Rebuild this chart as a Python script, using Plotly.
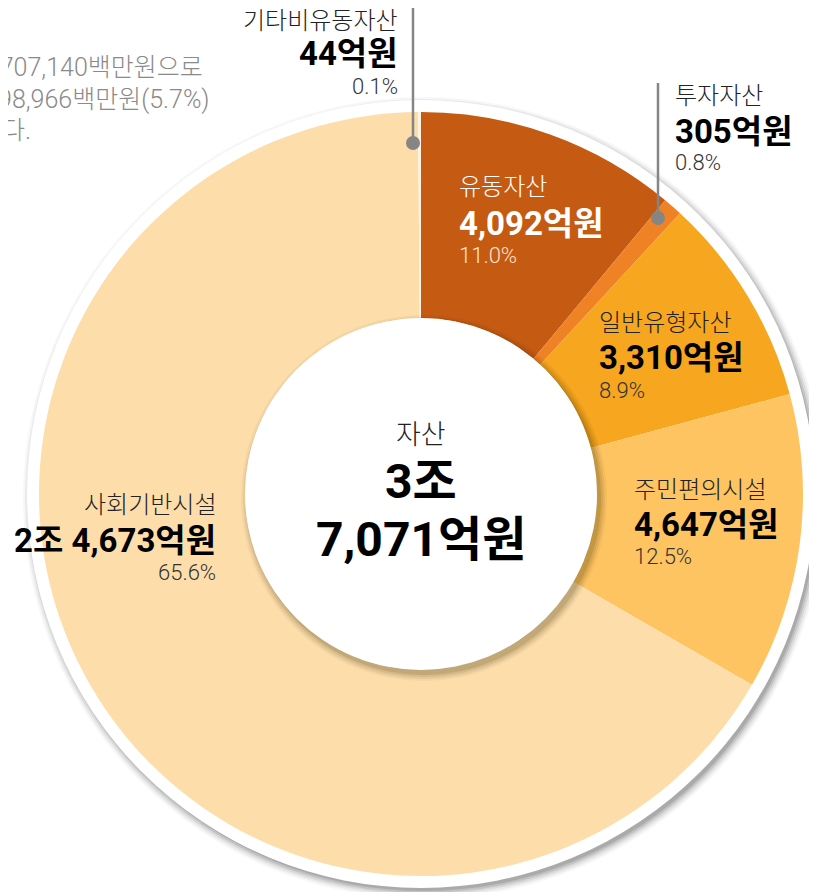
import plotly.graph_objects as go

# ---- data ----
names = ["유동자산", "투자자산", "일반유형자산", "주민편의시설", "사회기반시설", "기타비유동자산"]
values = [4092, 305, 3310, 4647, 24673, 44]          # 억원
pct_labels = ["11.0%", "0.8%", "8.9%", "12.5%", "65.6%", "0.1%"]
colors = ["#C55A12", "#F08226", "#F6A61F", "#FEC462", "#FDDEAB", "#FEF3E2"]
center_title = "자산"
note_lines = ["자산총계는 3,707,140백만원으로", "전년 대비 198,966백만원(5.7%)", "증가하였다."]
UNIT_JO = "조"
UNIT_EOK = "억원"


def fmt_eok(v):
    if v >= 10000:
        return str(v // 10000) + UNIT_JO + " " + format(v % 10000, ",") + UNIT_EOK
    return format(v, ",") + UNIT_EOK


total = sum(values)

# ---- geometry (page pixels; the page body adds an 8px offset) ----
W, H = 817, 892
OFF = 8
CX, CY, R = 421, 494, 382
ML = CX - OFF - R
MT = CY - OFF - R
MR = W - (CX - OFF + R)
MB = H - (CY - OFF + R)
PW = PH = 2 * R


def px(x):
    return (x - OFF - ML) / PW


def py(y):
    return (MT + PH - (y - OFF)) / PH


FONT = "Roboto, 'Noto Sans CJK KR', 'Noto Sans', sans-serif"

fig = go.Figure(go.Pie(
    labels=names, values=values, sort=False, direction="clockwise", rotation=0,
    hole=0.46, marker=dict(colors=colors, line=dict(width=0)),
    textinfo="none", hoverinfo="label+value", showlegend=False,
    domain=dict(x=[0, 1], y=[0, 1]),
))

shapes = []


def circle(cx, cy, r, fill, layer):
    shapes.append(dict(type="circle", xref="paper", yref="paper",
                       x0=px(cx - r), x1=px(cx + r), y0=py(cy + r), y1=py(cy - r),
                       fillcolor=fill, line=dict(width=0), layer=layer))


# outer white ring with soft shadow
for dr, a in [(9, 0.03), (7, 0.05), (5, 0.07), (3, 0.10), (1, 0.12)]:
    circle(CX + 3, CY + 4, 394 + dr - 2, "rgba(0,0,0,%s)" % a, "below")
circle(CX, CY, 394, "#FFFFFF", "below")

# inner hole with shadow
for dr, a in [(7, 0.05), (5, 0.07), (3, 0.09), (1, 0.12)]:
    circle(CX + 3, CY + 4, 176 + dr, "rgba(60,40,0,%s)" % a, "above")
circle(CX, CY, 176, "#FFFFFF", "above")

# leader lines
LC = "#858585"
for (x, y0, y1) in [(413, 0, 143), (658, 83, 218)]:
    shapes.append(dict(type="line", xref="paper", yref="paper",
                       x0=px(x), x1=px(x), y0=py(y0), y1=py(y1),
                       line=dict(color=LC, width=2.5), layer="above"))
    circle(x, y1, 7, LC, "above")

annotations = []


def ann(text, x, y, size, color, weight=400, anchor="left"):
    annotations.append(dict(text=text, x=px(x), y=py(y), xref="paper", yref="paper",
                            xanchor=anchor, yanchor="middle", showarrow=False,
                            font=dict(family=FONT, size=size, color=color, weight=weight)))


# label positions: (x, name_y, value_y, pct_y, anchor, name color, value color, pct color)
label_pos = [
    (457, 187, 223, 255, "left", "#FFFFFF", "#FFFFFF", "#FBE3CF"),
    (673, 96, 131, 162, "left", "#222222", "#000000", "#333333"),
    (597, 323, 357, 390, "left", "#222222", "#000000", "#333333"),
    (632, 490, 524, 556, "left", "#222222", "#000000", "#333333"),
    (218, 505, 540, 572, "right", "#222222", "#000000", "#333333"),
    (400, 21, 54, 86, "right", "#222222", "#000000", "#333333"),
]
for i, (x, yn, yv, yp, anc, cn, cv, cp) in enumerate(label_pos):
    ann(names[i], x, yn, 24, cn, 300, anc)
    ann(fmt_eok(values[i]), x, yv, 33, cv, 700, anc)
    ann(pct_labels[i], x, yp, 22, cp, 300, anc)

# center text
ann(center_title, CX, 435, 27, "#222222", 300, "center")
ann(str(total // 10000) + UNIT_JO, CX, 481, 48, "#000000", 700, "center")
ann(format(total % 10000, ",") + UNIT_EOK, CX, 539, 48, "#000000", 700, "center")

# partially visible note text at top left
for line, (xr, y) in zip(note_lines, [(205, 67), (212, 99), (33, 130)]):
    ann(line, xr, y, 25, "#8A8A8A", 300, "right")

fig.update_layout(
    width=W, height=H, paper_bgcolor="#FFFFFF", plot_bgcolor="#FFFFFF",
    margin=dict(l=ML, r=MR, t=MT, b=MB, pad=0),
    shapes=shapes, annotations=annotations,
)
fig.write_html("out.html")
